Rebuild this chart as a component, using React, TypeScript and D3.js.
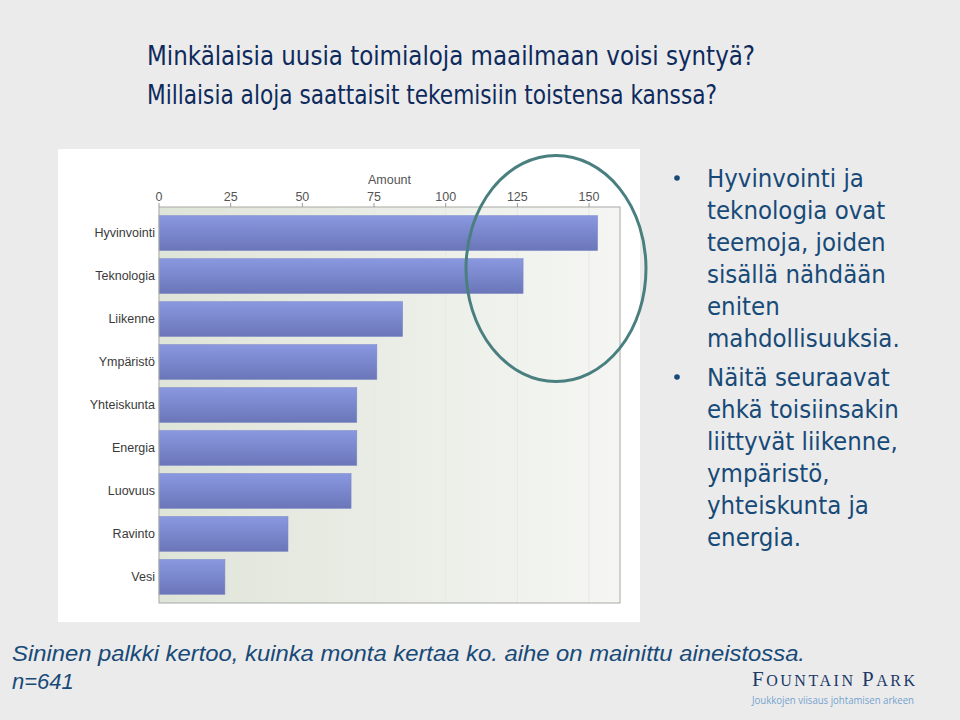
import React from "react";
import * as d3 from "d3";

const categories = ["Hyvinvointi", "Teknologia", "Liikenne", "Ympäristö", "Yhteiskunta", "Energia", "Luovuus", "Ravinto", "Vesi"];
const amounts = [153, 127, 85, 76, 69, 69, 67, 45, 23];
const tickValues = [0, 25, 50, 75, 100, 125, 150];
const axisTitle = "Amount";
const titleLines = ["Minkälaisia uusia toimialoja maailmaan voisi syntyä?", "Millaisia aloja saattaisit tekemisiin toistensa kanssa?"];
const bullet1 = ["Hyvinvointi ja", "teknologia ovat", "teemoja, joiden", "sisällä nähdään", "eniten", "mahdollisuuksia."];
const bullet2 = ["Näitä seuraavat", "ehkä toisiinsakin", "liittyvät liikenne,", "ympäristö,", "yhteiskunta ja", "energia."];
const captionLines = ["Sininen palkki kertoo, kuinka monta kertaa ko. aihe on mainittu aineistossa.", "n=641"];

export default function App() {
  const W = 960, H = 720;
  const plot = { left: 159, right: 620, top: 207, bottom: 603 };
  const x = d3.scaleLinear().domain([0, 160.8]).range([plot.left, plot.right]);
  const y = d3.scaleBand<string>().domain(categories).range([plot.top, plot.bottom]).paddingInner(0.186).paddingOuter(0.2);
  const titleFont = "'DejaVu Sans Condensed', 'DejaVu Sans', sans-serif";
  const navy = "#0e2a5c";
  const bulletColor = "#184a78";

  return (
    <svg width={W} height={H} style={{ position: "fixed", left: 0, top: 0 }} xmlns="http://www.w3.org/2000/svg">
      <defs>
        <linearGradient id="plotBg" x1="0" x2="1" y1="0" y2="0">
          <stop offset="0" stopColor="#dfe4d8" />
          <stop offset="1" stopColor="#f5f6f3" />
        </linearGradient>
        <linearGradient id="barGrad" x1="0" x2="0" y1="0" y2="1">
          <stop offset="0" stopColor="#8a98e0" />
          <stop offset="1" stopColor="#6a76b8" />
        </linearGradient>
      </defs>
      <rect x={0} y={0} width={W} height={H} fill="#ebebeb" />

      {/* Title */}
      {titleLines.map((t, i) => (
        <text key={i} x={147} y={65 + i * 39} fontFamily={titleFont} fontSize={27} fill={navy}
          textLength={i === 0 ? 608 : 570} lengthAdjust="spacingAndGlyphs">{t}</text>
      ))}

      {/* Chart panel */}
      <rect x={58} y={149} width={582} height={473} fill="#ffffff" />
      <rect x={plot.left} y={plot.top} width={plot.right - plot.left} height={plot.bottom - plot.top} fill="url(#plotBg)" />
      {tickValues.map((v) => (
        <line key={"g" + v} x1={x(v)} x2={x(v)} y1={plot.top} y2={plot.bottom} stroke="#e6e9e2" strokeWidth={1} />
      ))}
      {categories.map((c, i) => (
        <g key={c}>
          <rect x={x(0)} y={y(c)!} width={x(amounts[i]) - x(0)} height={y.bandwidth()} fill="url(#barGrad)" stroke="#7c88c8" strokeWidth={0.5} />
          <text x={155} y={y(c)! + y.bandwidth() / 2} dy="0.35em" textAnchor="end" fontFamily="Arial, 'Liberation Sans', sans-serif" fontSize={12.5} fill="#3a3a3a">{c}</text>
        </g>
      ))}
      <rect x={plot.left} y={plot.top} width={plot.right - plot.left} height={plot.bottom - plot.top} fill="none" stroke="#a8aaa6" strokeWidth={1} />
      {tickValues.map((v) => (
        <g key={"t" + v}>
          <line x1={x(v)} x2={x(v)} y1={plot.top - 4} y2={plot.top} stroke="#9a9a9a" />
          <text x={x(v)} y={201} textAnchor="middle" fontFamily="Arial, 'Liberation Sans', sans-serif" fontSize={12.5} fill="#555">{v}</text>
        </g>
      ))}
      <text x={(plot.left + plot.right) / 2} y={184} textAnchor="middle" fontFamily="Arial, 'Liberation Sans', sans-serif" fontSize={12.5} fill="#555">{axisTitle}</text>

      {/* Highlight ellipse */}
      <ellipse cx={556} cy={268.5} rx={90} ry={113} fill="none" stroke="#4a7f80" strokeWidth={3} />

      {/* Bullets */}
      <circle cx={677} cy={178} r={2.8} fill={bulletColor} />
      {bullet1.map((t, i) => (
        <text key={"b1" + i} x={707} y={187 + i * 32} fontFamily={titleFont} fontSize={25.5} fill={bulletColor}>{t}</text>
      ))}
      <circle cx={677} cy={377} r={2.8} fill={bulletColor} />
      {bullet2.map((t, i) => (
        <text key={"b2" + i} x={707} y={386 + i * 32} fontFamily={titleFont} fontSize={25.5} fill={bulletColor}>{t}</text>
      ))}

      {/* Caption */}
      {captionLines.map((t, i) => (
        <text key={"c" + i} x={12} y={661 + i * 28} fontFamily="Arial, 'Liberation Sans', sans-serif" fontStyle="italic" fontSize={22} fill={bulletColor}
          textLength={i === 0 ? 793 : undefined} lengthAdjust="spacingAndGlyphs">{t}</text>
      ))}

      {/* Logo */}
      <text x={752} y={686} fontFamily="'Liberation Serif', 'DejaVu Serif', serif" fill="#1b3868" fontSize={16} textLength={163} lengthAdjust="spacing">
        <tspan fontSize={21}>F</tspan>OUNTAIN <tspan fontSize={21}>P</tspan>ARK
      </text>
      <text x={752} y={704} fontFamily="'Open Sans', 'DejaVu Sans', sans-serif" fontSize={11} fill="#74a3cf" textLength={162} lengthAdjust="spacingAndGlyphs">Joukkojen viisaus johtamisen arkeen</text>
    </svg>
  );
}
